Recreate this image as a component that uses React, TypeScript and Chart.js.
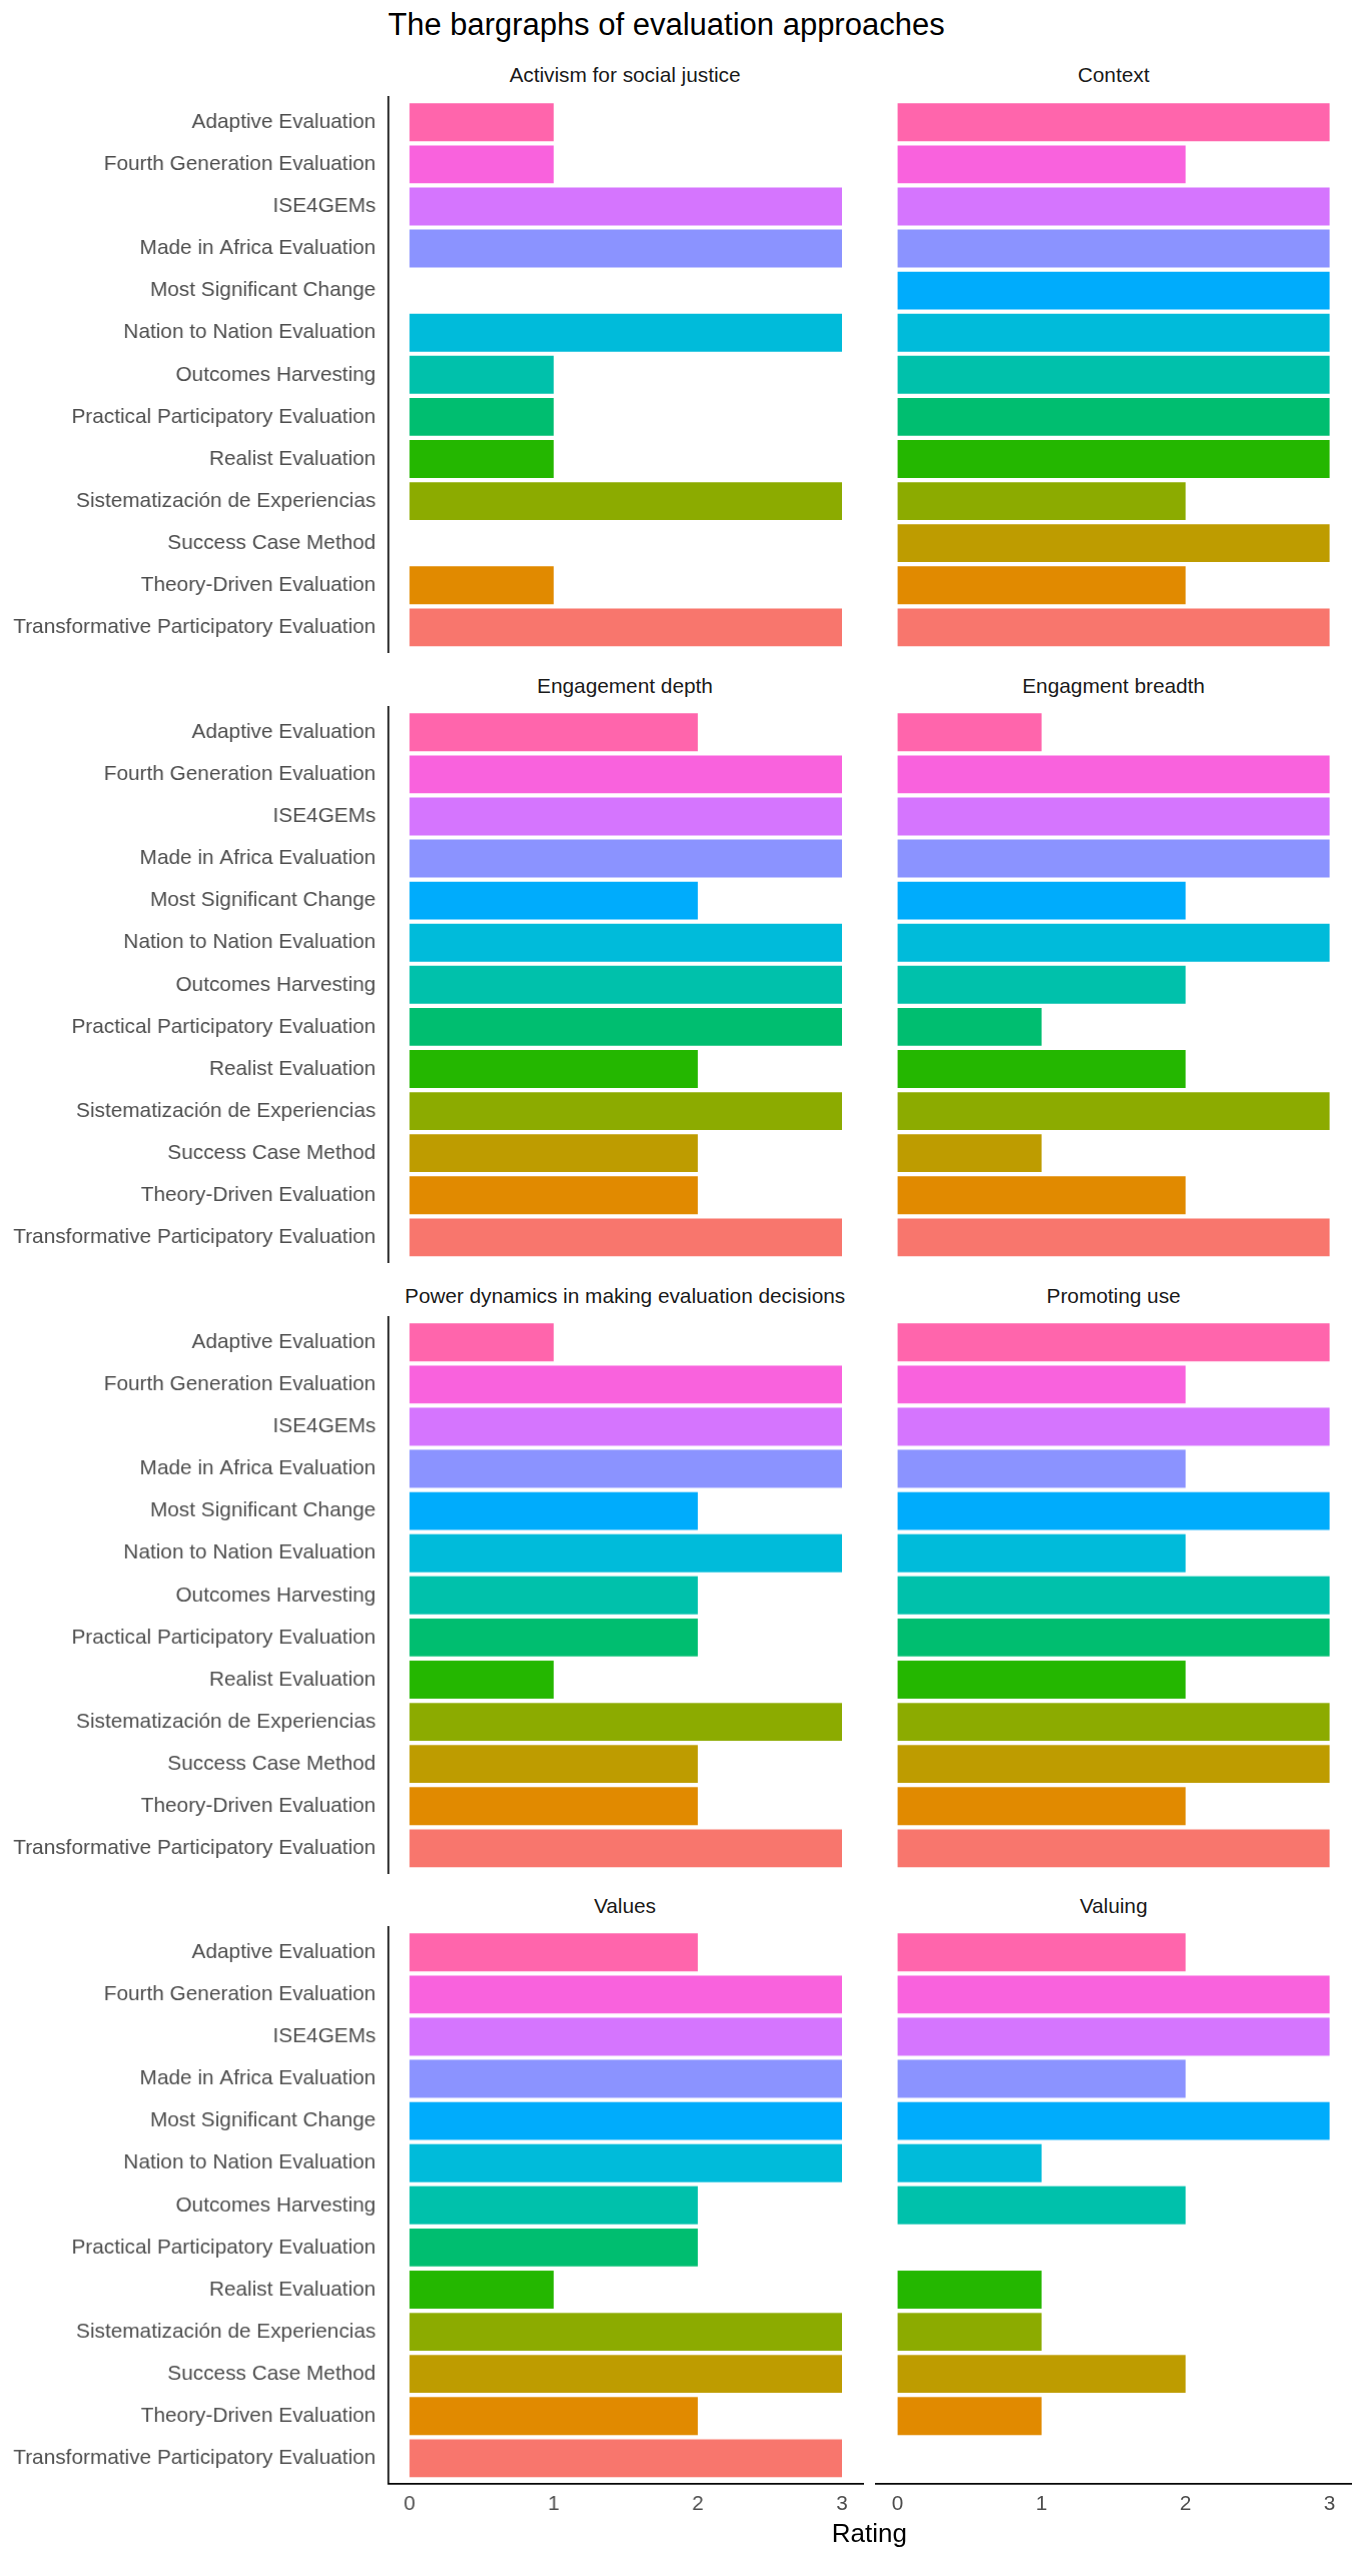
import React, { useEffect, useRef } from "react";
import { Chart, registerables } from "chart.js";

Chart.register(...registerables);

const CATEGORIES = [
  "Adaptive Evaluation",
  "Fourth Generation Evaluation",
  "ISE4GEMs",
  "Made in Africa Evaluation",
  "Most Significant Change",
  "Nation to Nation Evaluation",
  "Outcomes Harvesting",
  "Practical Participatory Evaluation",
  "Realist Evaluation",
  "Sistematización de Experiencias",
  "Success Case Method",
  "Theory-Driven Evaluation",
  "Transformative Participatory Evaluation",
];

const COLORS = [
  "#FF65AC",
  "#F962DD",
  "#D575FE",
  "#8B93FF",
  "#00ACFC",
  "#00BBDA",
  "#00C1AB",
  "#00BE70",
  "#24B700",
  "#8CAB00",
  "#BE9C00",
  "#E18A00",
  "#F8766D",
];

const FACETS = [
  "Activism for social justice",
  "Context",
  "Engagement depth",
  "Engagment breadth",
  "Power dynamics in making evaluation decisions",
  "Promoting use",
  "Values",
  "Valuing",
];

const ACTIVISM = [1, 1, 3, 3, null, 3, 1, 1, 1, 3, null, 1, 3];
const CONTEXT = [3, 2, 3, 3, 3, 3, 3, 3, 3, 2, 3, 2, 3];
const ENGAGEMENT_DEPTH = [2, 3, 3, 3, 2, 3, 3, 3, 2, 3, 2, 2, 3];
const ENGAGMENT_BREADTH = [1, 3, 3, 3, 2, 3, 2, 1, 2, 3, 1, 2, 3];
const POWER_DYNAMICS = [1, 3, 3, 3, 2, 3, 2, 2, 1, 3, 2, 2, 3];
const PROMOTING_USE = [3, 2, 3, 2, 3, 2, 3, 3, 2, 3, 3, 2, 3];
const VALUES = [2, 3, 3, 3, 3, 3, 2, 2, 1, 3, 3, 2, 3];
const VALUING = [2, 3, 3, 2, 3, 1, 2, null, 1, 1, 2, 1, null];

const FACET_VALUES = [
  ACTIVISM,
  CONTEXT,
  ENGAGEMENT_DEPTH,
  ENGAGMENT_BREADTH,
  POWER_DYNAMICS,
  PROMOTING_USE,
  VALUES,
  VALUING,
];

const X_TICKS = [0, 1, 2, 3];
const X_MIN = -0.15;
const X_MAX = 3.15;
const Y_MIN = -0.6;
const Y_MAX = 12.6;

const FONT = "'Liberation Sans', Arial, Helvetica, sans-serif";

// layout
const UNIT = 144;
const PANEL_W = (X_MAX - X_MIN) * UNIT;
const PANEL_H = 555.6;
const ROW_TOP0 = 96.7;
const ROW_PITCH = 610.2;
const LEFT_PANEL_L = 387.4;
const RIGHT_PANEL_L = 876.0;
const PAD = 3;
const X_AXIS_H = 45;

type PanelProps = {
  values: (number | null)[];
  showY: boolean;
  showX: boolean;
  left: number;
  top: number;
  width: number;
  height: number;
};

function Panel({ values, showY, showX, left, top, width, height }: PanelProps) {
  const ref = useRef<HTMLCanvasElement | null>(null);
  useEffect(() => {
    if (!ref.current) return;
    const data = values
      .map((v, i) => (v == null ? null : { x: v, y: i }))
      .filter((d) => d !== null) as { x: number; y: number }[];
    const chart = new Chart(ref.current, {
      type: "bar",
      data: {
        datasets: [
          {
            data: data as any,
            backgroundColor: (ctx: any) =>
              ctx.raw && typeof ctx.raw.y === "number" ? COLORS[ctx.raw.y] : "#999",
            borderWidth: 0,
            barPercentage: 0.9,
            categoryPercentage: 1,
          },
        ],
      },
      options: {
        indexAxis: "y",
        animation: false,
        responsive: true,
        maintainAspectRatio: false,
        layout: {
          padding: {
            top: PAD,
            bottom: showX ? 0 : PAD,
            left: showY ? 0 : PAD,
            right: PAD,
          },
        },
        plugins: {
          legend: { display: false },
          tooltip: { enabled: false },
          title: { display: false },
        },
        scales: {
          x: {
            type: "linear",
            display: showX,
            offset: false,
            bounds: "data",
            min: X_MIN,
            max: X_MAX,
            afterBuildTicks: (s: any) => {
              s.ticks = X_TICKS.map((v) => ({ value: v }));
            },
            afterFit: (s: any) => {
              s.height = showX ? X_AXIS_H : 0;
              s.paddingLeft = 0;
              s.paddingRight = 0;
            },
            grid: { display: false, drawTicks: false, offset: false },
            border: { display: true, color: "#000000", width: 1.7 },
            ticks: {
              color: "#4D4D4D",
              font: { family: FONT, size: 20.8 },
              padding: 8,
              maxRotation: 0,
              autoSkip: false,
            },
          },
          y: {
            type: "linear",
            display: showY,
            offset: false,
            reverse: true,
            bounds: "data",
            min: Y_MIN,
            max: Y_MAX,
            afterBuildTicks: (s: any) => {
              s.ticks = CATEGORIES.map((_, i) => ({ value: i }));
            },
            afterFit: (s: any) => {
              s.width = showY ? LEFT_PANEL_L : 0;
              s.paddingTop = 0;
              s.paddingBottom = 0;
            },
            grid: { display: false, drawTicks: false, offset: false },
            border: { display: true, color: "#000000", width: 1.7 },
            ticks: {
              color: "#4D4D4D",
              font: { family: FONT, size: 20.8 },
              padding: 12,
              autoSkip: false,
              callback: (v: any) => CATEGORIES[Math.round(Number(v))] ?? "",
            },
          },
        },
      } as any,
    });
    return () => chart.destroy();
  }, [values, showY, showX]);
  return (
    <div style={{ position: "absolute", left, top, width, height }}>
      <canvas ref={ref} />
    </div>
  );
}

export default function App() {
  const panels: React.ReactNode[] = [];
  const strips: React.ReactNode[] = [];
  for (let k = 0; k < FACETS.length; k++) {
    const row = Math.floor(k / 2);
    const col = k % 2;
    const isLeft = col === 0;
    const isBottom = row === 3;
    const rowTop = ROW_TOP0 + row * ROW_PITCH;
    const panelL = isLeft ? LEFT_PANEL_L : RIGHT_PANEL_L;
    const left = isLeft ? 0 : panelL - PAD;
    const width = isLeft ? LEFT_PANEL_L + PANEL_W + PAD : PANEL_W + 2 * PAD;
    const top = rowTop - PAD;
    const height = isBottom ? PANEL_H + PAD + X_AXIS_H : PANEL_H + 2 * PAD;
    panels.push(
      <Panel
        key={"p" + k}
        values={FACET_VALUES[k]}
        showY={isLeft}
        showX={isBottom}
        left={left}
        top={top}
        width={width}
        height={height}
      />
    );
    strips.push(
      <div
        key={"s" + k}
        style={{
          position: "absolute",
          left: panelL,
          width: PANEL_W,
          top: 65.4 + row * ROW_PITCH,
          textAlign: "center",
          fontFamily: FONT,
          fontSize: 20.8,
          lineHeight: "20.8px",
          color: "#1A1A1A",
          whiteSpace: "nowrap",
        }}
      >
        {FACETS[k]}
      </div>
    );
  }
  return (
    <div
      style={{
        position: "absolute",
        left: 0,
        top: 0,
        width: 1365,
        height: 2560,
        background: "#ffffff",
        overflow: "hidden",
      }}
    >
      <div
        style={{
          position: "absolute",
          left: 388,
          top: 8.8,
          fontFamily: FONT,
          fontSize: 31,
          lineHeight: "31px",
          color: "#000000",
          whiteSpace: "nowrap",
        }}
      >
        The bargraphs of evaluation approaches
      </div>
      {strips}
      {panels}
      <div
        style={{
          position: "absolute",
          left: LEFT_PANEL_L,
          width: RIGHT_PANEL_L + PANEL_W - LEFT_PANEL_L,
          top: 2519.7,
          textAlign: "center",
          fontFamily: FONT,
          fontSize: 26,
          lineHeight: "26px",
          color: "#000000",
        }}
      >
        Rating
      </div>
    </div>
  );
}
